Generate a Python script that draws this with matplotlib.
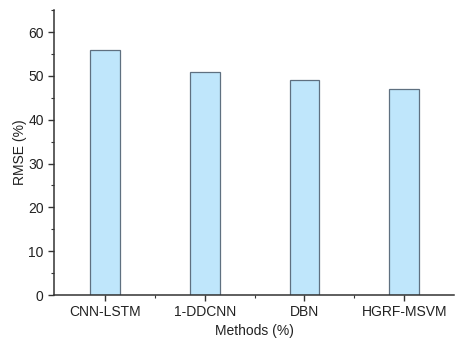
import matplotlib
matplotlib.use("Agg")
import matplotlib.pyplot as plt
from matplotlib.ticker import MultipleLocator, FixedLocator

methods = ["CNN-LSTM", "1-DDCNN", "DBN", "HGRF-MSVM"]
rmse = [56, 51, 49, 47]

plt.rcParams['font.family'] = ['Liberation Sans', 'DejaVu Sans']
fig = plt.figure(figsize=(4.55, 3.38), dpi=100)
ax = fig.add_axes([0.119, 0.127, 0.879, 0.843])
x = list(range(len(methods)))
ax.bar(x, rmse, width=0.3, color='#bfe6fb', edgecolor='#5f7080', linewidth=0.9)
ax.set_xlim(-0.51, 3.5)
ax.set_ylim(0, 65)
ax.set_xticks(x)
ax.set_xticklabels(methods, fontsize=10, color='#222222')
ax.xaxis.set_minor_locator(FixedLocator([0.5, 1.5, 2.5]))
ax.yaxis.set_major_locator(MultipleLocator(10))
ax.yaxis.set_minor_locator(MultipleLocator(5))
ax.tick_params(axis='y', labelsize=10, labelcolor='#222222')
ax.tick_params(which='major', direction='out', length=4, width=1, color='#333333')
ax.tick_params(which='minor', direction='out', length=2.5, width=0.8, color='#333333')
for s in ['top', 'right']:
    ax.spines[s].set_visible(False)
for s in ['left', 'bottom']:
    ax.spines[s].set_linewidth(1.1)
    ax.spines[s].set_color('#333333')
ax.set_ylabel('RMSE (%)', fontsize=10, color='#222222', labelpad=1)
ax.set_xlabel('Methods (%)', fontsize=10, color='#222222', labelpad=3)
fig.savefig('out.png', dpi=100)
